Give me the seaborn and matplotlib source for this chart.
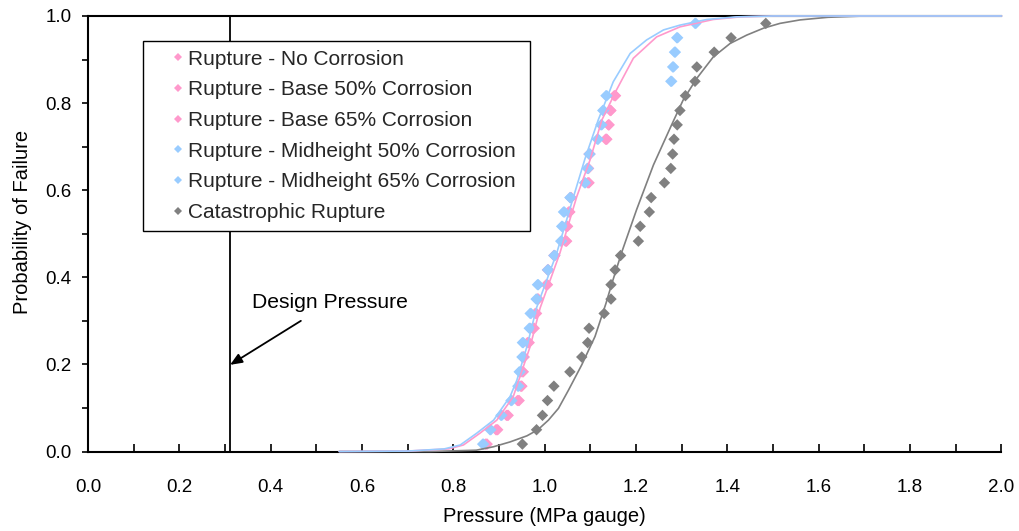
import numpy as np
import pandas as pd
import matplotlib
matplotlib.use("Agg")
import matplotlib.pyplot as plt
import seaborn as sns
from matplotlib.ticker import MultipleLocator, FormatStrFormatter

# ---------------- data ----------------
series_names = [
    "Rupture - No Corrosion",
    "Rupture - Base 50% Corrosion",
    "Rupture - Base 65% Corrosion",
    "Rupture - Midheight 50% Corrosion",
    "Rupture - Midheight 65% Corrosion",
    "Catastrophic Rupture",
]
series_colors = ["#FF99CC", "#FF99CC", "#FF99CC", "#99CCFF", "#99CCFF", "#808080"]

# plotting positions (probability of failure) of the ranked results
prob_rank = [0.017, 0.050, 0.083, 0.117, 0.150, 0.183, 0.217, 0.250, 0.283, 0.317,
             0.350, 0.383, 0.417, 0.450, 0.483, 0.517, 0.550, 0.583, 0.617, 0.650,
             0.683, 0.717, 0.750, 0.783, 0.817, 0.850, 0.883, 0.917, 0.950, 0.983]

no_corrosion_x = [0.874, 0.897, 0.920, 0.944, 0.950, 0.953, 0.955, 0.966, 0.977, 0.982,
                  0.986, 1.006, 1.008, 1.022, 1.048, 1.050, 1.055, 1.058, 1.097, 1.096,
                  1.099, 1.136, 1.141, 1.145, 1.155]
base50_x = [0.870, 0.893, 0.916, 0.940, 0.947, 0.950, 0.953, 0.962, 0.973, 0.979,
            0.984, 1.003, 1.006, 1.020, 1.045, 1.047, 1.052, 1.056, 1.094, 1.094,
            1.097, 1.133, 1.139, 1.143, 1.152]
base65_x = [0.872, 0.895, 0.918, 0.942, 0.949, 0.952, 0.954, 0.964, 0.975, 0.981,
            0.985, 1.005, 1.007, 1.021, 1.047, 1.049, 1.054, 1.057, 1.096, 1.095,
            1.098, 1.135, 1.140, 1.144, 1.154]
mid50_x = [0.864, 0.880, 0.904, 0.926, 0.941, 0.944, 0.950, 0.951, 0.966, 0.968,
           0.981, 0.984, 1.006, 1.020, 1.035, 1.037, 1.041, 1.055, 1.087, 1.093,
           1.097, 1.115, 1.123, 1.127, 1.134, 1.276, 1.280, 1.284, 1.289, 1.329]
mid65_x = [0.866, 0.882, 0.906, 0.928, 0.943, 0.946, 0.952, 0.953, 0.968, 0.970,
           0.983, 0.986, 1.008, 1.022, 1.037, 1.039, 1.043, 1.057, 1.089, 1.095,
           1.099, 1.117, 1.125, 1.129, 1.136, 1.278, 1.282, 1.286, 1.291, 1.331]
catastrophic_x = [0.951, 0.982, 0.995, 1.006, 1.020, 1.055, 1.081, 1.094, 1.097, 1.130,
                  1.145, 1.145, 1.154, 1.166, 1.205, 1.209, 1.229, 1.233, 1.262, 1.276,
                  1.280, 1.283, 1.290, 1.296, 1.308, 1.329, 1.333, 1.371, 1.408, 1.484]

# fitted failure curves
fit_pink_x = [0.55, 0.70, 0.79, 0.822, 0.858, 0.895, 0.931, 0.968, 0.990, 1.033, 1.070,
              1.099, 1.125, 1.157, 1.194, 1.245, 1.296, 1.369, 1.428, 1.50, 2.00]
fit_pink_y = [0.000, 0.001, 0.006, 0.015, 0.042, 0.072, 0.126, 0.241, 0.330, 0.455, 0.585,
              0.669, 0.761, 0.830, 0.903, 0.952, 0.975, 0.992, 0.998, 1.000, 1.000]
fit_blue_x = [0.55, 0.70, 0.78, 0.815, 0.851, 0.888, 0.924, 0.939, 0.961, 0.982, 1.026,
              1.063, 1.088, 1.117, 1.150, 1.187, 1.223, 1.260, 1.296, 1.355, 1.420, 1.50, 2.00]
fit_blue_y = [0.000, 0.001, 0.006, 0.015, 0.042, 0.072, 0.126, 0.164, 0.241, 0.330, 0.455,
              0.585, 0.672, 0.761, 0.849, 0.914, 0.945, 0.968, 0.979, 0.992, 0.998, 1.000, 1.000]
fit_gray_x = [0.55, 0.75, 0.85, 0.888, 0.924, 0.961, 0.985, 1.008, 1.030, 1.052, 1.081,
              1.110, 1.134, 1.147, 1.169, 1.201, 1.238, 1.276, 1.303, 1.333, 1.369,
              1.406, 1.442, 1.479, 1.515, 1.559, 1.62, 1.70, 2.00]
fit_gray_y = [0.000, 0.000, 0.003, 0.011, 0.022, 0.036, 0.050, 0.072, 0.099, 0.141, 0.199,
              0.264, 0.340, 0.386, 0.459, 0.555, 0.658, 0.746, 0.807, 0.857, 0.906,
              0.937, 0.956, 0.972, 0.983, 0.991, 0.997, 1.000, 1.000]

design_pressure = 0.311
design_label = "Design Pressure"

# ---------------- build tables ----------------
point_x = [no_corrosion_x, base50_x, base65_x, mid50_x, mid65_x, catastrophic_x]
rows = []
for name, xs in zip(series_names, point_x):
    for xv, yv in zip(xs, prob_rank):
        rows.append({"Pressure": xv, "Prob": yv, "Series": name})
points = pd.DataFrame(rows)
palette = dict(zip(series_names, series_colors))

# ---------------- style ----------------
sns.set_theme(style="white")
plt.rcParams['font.family'] = ['Liberation Sans', 'DejaVu Sans']

fig = plt.figure(figsize=(10.19, 5.31), dpi=100)
ax = fig.add_axes([0.0864, 0.1497, 0.8964, 0.8202])

sns.scatterplot(data=points, x="Pressure", y="Prob", hue="Series",
                hue_order=series_names, palette=palette, marker="D", s=34,
                linewidth=0, ax=ax, zorder=2.2)

curves = [(fit_gray_x, fit_gray_y, "#808080"),
          (fit_pink_x, fit_pink_y, "#FF99CC"),
          (fit_blue_x, fit_blue_y, "#99CCFF")]
n_before = len(ax.lines)
for cx, cy, col in curves:
    sns.lineplot(x=cx, y=cy, color=col, linewidth=1.2, sort=False,
                 estimator=None, ax=ax, legend=False)
for ln in ax.lines[n_before:]:
    ln.set_clip_on(False)
    ln.set_zorder(3)

# design pressure line + annotation
ax.plot([design_pressure, design_pressure], [0, 1], color="black", lw=1.3, zorder=2.6)
ax.text(0.530, 0.342, design_label, ha="center", va="center", fontsize=15.2, color="black")
ax.annotate("", xy=(design_pressure, 0.199), xytext=(0.466, 0.300),
            arrowprops=dict(arrowstyle="-|>,head_length=0.6,head_width=0.25",
                            color="black", lw=1.3, shrinkA=0, shrinkB=0))

# axes
ax.set_xlim(0, 2)
ax.set_ylim(0, 1)
ax.xaxis.set_major_locator(MultipleLocator(0.2))
ax.xaxis.set_minor_locator(MultipleLocator(0.1))
ax.yaxis.set_major_locator(MultipleLocator(0.2))
ax.yaxis.set_minor_locator(MultipleLocator(0.1))
ax.xaxis.set_major_formatter(FormatStrFormatter("%.1f"))
ax.yaxis.set_major_formatter(FormatStrFormatter("%.1f"))
ax.tick_params(axis="x", which="both", direction="in", length=5.5, width=1.2,
               pad=20, labelsize=13.5, colors="black", bottom=True, top=False)
ax.tick_params(axis="y", which="both", direction="out", length=4, width=1.2,
               pad=8, labelsize=13.5, colors="black", left=True, right=False)

for side in ["left", "bottom", "top"]:
    ax.spines[side].set_visible(True)
    ax.spines[side].set_color("black")
    ax.spines[side].set_linewidth(1.5)
ax.spines["right"].set_visible(False)

ax.set_xlabel("Pressure (MPa gauge)", fontsize=14.5, color="black")
ax.set_ylabel("Probability of Failure", fontsize=14.5, color="black")
ax.xaxis.set_label_coords(0.5, -0.128)
ax.yaxis.set_label_coords(-0.0613, 0.527)

handles, labels = ax.get_legend_handles_labels()
leg = ax.legend(handles, labels, loc="upper left",
                bbox_to_anchor=(0.0602, 0.0, (530 - 143) / 913.4, 0.9426),
                mode="expand", borderaxespad=0, fontsize=15,
                frameon=True, fancybox=False, shadow=False, framealpha=1,
                edgecolor="black", handlelength=2.5, handletextpad=-0.75,
                borderpad=0.42, labelspacing=0.56, markerscale=0.75)
leg.get_frame().set_linewidth(1.0)

fig.savefig("out.png", dpi=100, facecolor="white")
